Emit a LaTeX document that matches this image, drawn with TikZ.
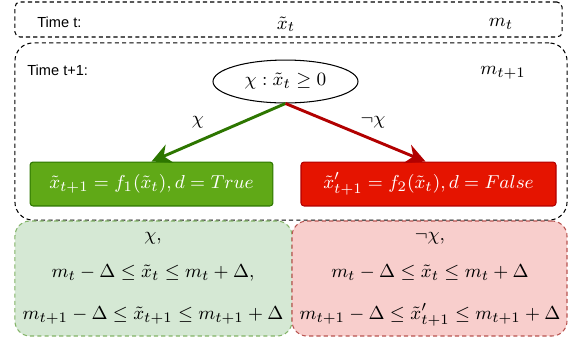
\documentclass[tikz,border=0pt]{standalone}
\usepackage{fontspec}
\setsansfont{Liberation Sans}
\usepackage{amsmath}
\usetikzlibrary{shapes.geometric,arrows.meta,positioning,calc}
\definecolor{truefill}{HTML}{60A917}
\definecolor{trueline}{HTML}{2D7600}
\definecolor{falsefill}{HTML}{E51400}
\definecolor{falseline}{HTML}{B20000}
\definecolor{boundgreen}{HTML}{D5E8D4}
\definecolor{boundgreenline}{HTML}{82B366}
\definecolor{boundred}{HTML}{F8CECC}
\definecolor{boundredline}{HTML}{B85450}

\begin{document}
\begin{tikzpicture}[
  x=0.48pt, y=-0.48pt,
  every node/.style={font=\fontsize{9.5}{11.4}\selectfont},
  timebox/.style={rectangle, draw=black, line width=0.5pt, dash pattern=on 2pt off 1.5pt},
  timelabel/.style={font=\sffamily\fontsize{7}{8.4}\selectfont, anchor=west},
  updatebox/.style={rectangle, rounded corners=1.5pt, line width=0.5pt, text=white,
                    minimum height=21.1pt},
  boundbox/.style={rectangle, rounded corners=7.2pt, line width=0.5pt,
                   dash pattern=on 2pt off 1.5pt, minimum width=133pt, minimum height=55.2pt},
  branch/.style={-{Stealth[length=9.4pt, width=9.4pt]}, line width=1.4pt},
]
\useasboundingbox (0,0) rectangle (572,341);

% Time t row
\node[timebox, rounded corners=2.4pt, minimum width=262.6pt, minimum height=16.8pt] (rowt) at (288.5,19.5) {};
\node[timelabel] (labelt) at (30,22) {Time t:};
\node (xt) at (286,24) {$\tilde{x}_t$};
\node (mt) at (501,24) {$m_t$};

% Time t+1 block
\node[timebox, rounded corners=8.6pt, minimum width=265pt, minimum height=85pt] (rowtt) at (291,131.5) {};
\node[timelabel] (labeltt) at (20,70) {Time t+1:};
\node (mtt) at (503,73) {$m_{t+1}$};

% Condition
\node[ellipse, draw=black, line width=0.5pt, inner sep=0pt,
      minimum width=69.6pt, minimum height=20.6pt] (cond) at (285.5,81.5) {$\chi : \tilde{x}_t \geq 0$};

% Update rules
\node[updatebox, fill=truefill, draw=trueline, minimum width=116.6pt] (truebox) at (151.5,184)
      {$\tilde{x}_{t+1} = f_1(\tilde{x}_t), d = True$};
\node[updatebox, fill=falsefill, draw=falseline, minimum width=122.4pt] (falsebox) at (428.5,184)
      {$\tilde{x}'_{t+1} = f_2(\tilde{x}_t), d = False$};

% Branches
\draw[branch, color=trueline] (cond.south) -- (truebox.north);
\draw[branch, color=falseline] (cond.south) -- ($(falsebox.north)+(-3,0)$);
\node (chiyes) at (198,122) {$\chi$};
\node (chino) at (373,122) {$\neg\chi$};

% Bounds
\node[boundbox, fill=boundgreen, draw=boundgreenline] (boundtrue) at (153.5,278.5) {};
\node[boundbox, fill=boundred, draw=boundredline, minimum width=132pt] (boundfalse) at (429.5,278.5) {};
\node (truea) at (153,238) {$\chi,$};
\node (trueb) at (153,273) {$m_t - \Delta \leq \tilde{x}_t \leq m_t + \Delta,$};
\node (truec) at (153,315) {$m_{t+1} - \Delta \leq \tilde{x}_{t+1} \leq m_{t+1} + \Delta$};
\node (falsea) at (430,238) {$\neg\chi,$};
\node (falseb) at (430,273) {$m_t - \Delta \leq \tilde{x}_t \leq m_t + \Delta$};
\node (falsec) at (430,315) {$m_{t+1} - \Delta \leq \tilde{x}'_{t+1} \leq m_{t+1} + \Delta$};
\end{tikzpicture}
\end{document}
